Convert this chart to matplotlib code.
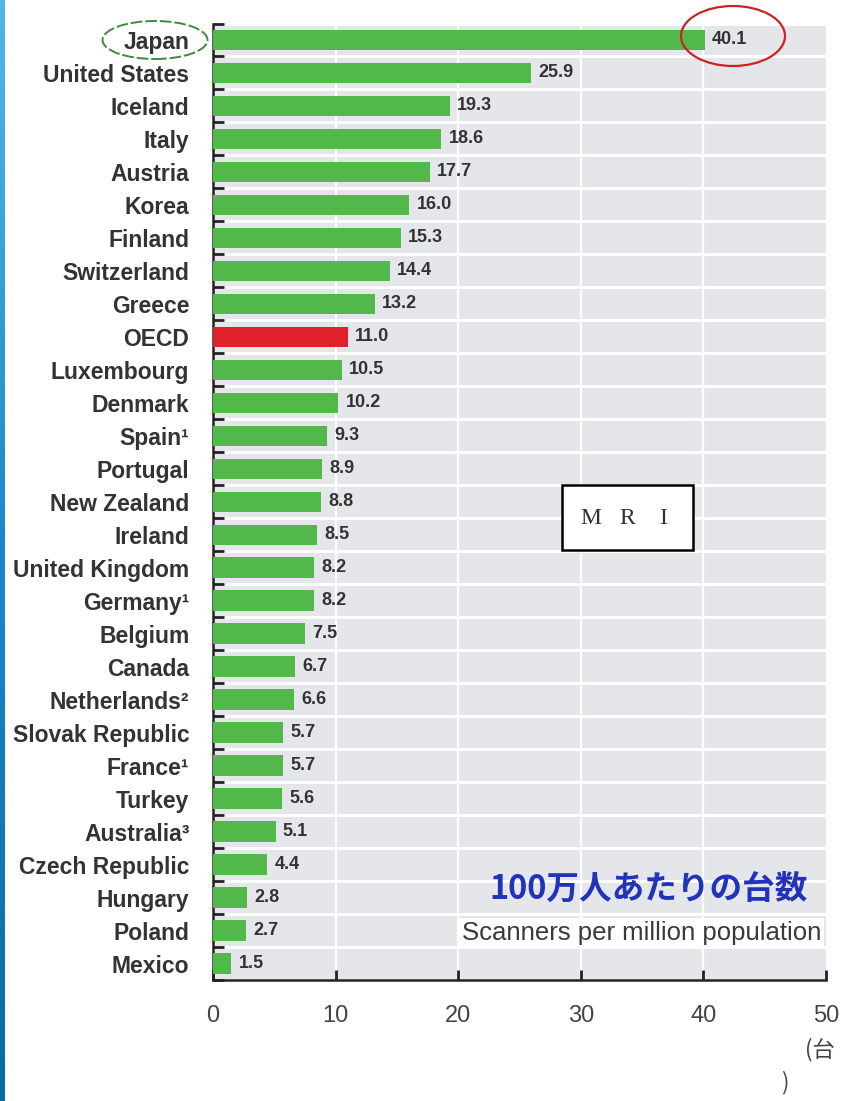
import matplotlib
matplotlib.use('Agg')
import matplotlib.pyplot as plt
import numpy as np
from matplotlib.patches import Ellipse, Rectangle

# 国別 MRI 台数（人口100万人あたり）
countries = ['Japan', 'United States', 'Iceland', 'Italy', 'Austria', 'Korea',
             'Finland', 'Switzerland', 'Greece', 'OECD', 'Luxembourg', 'Denmark',
             'Spain¹', 'Portugal', 'New Zealand', 'Ireland', 'United Kingdom',
             'Germany¹', 'Belgium', 'Canada', 'Netherlands²', 'Slovak Republic',
             'France¹', 'Turkey', 'Australia³', 'Czech Republic', 'Hungary',
             'Poland', 'Mexico']
values = [40.1, 25.9, 19.3, 18.6, 17.7, 16.0, 15.3, 14.4, 13.2, 11.0, 10.5, 10.2,
          9.3, 8.9, 8.8, 8.5, 8.2, 8.2, 7.5, 6.7, 6.6, 5.7, 5.7, 5.6, 5.1, 4.4,
          2.8, 2.7, 1.5]
x_ticks = [0, 10, 20, 30, 40, 50]

plt.rcParams['font.family'] = ['Liberation Sans', 'Noto Sans CJK JP', 'DejaVu Sans']

W, H = 844, 1101
fig = plt.figure(figsize=(W / 100, H / 100), dpi=100)
fig.patch.set_facecolor('white')

def fx(px):
    return px / W

def fy(py):
    return 1 - py / H

ax = fig.add_axes([fx(213), fy(980), fx(826) - fx(213), fy(23.5) - fy(980)])
ax.set_facecolor('#e4e6e9')

n = len(countries)
pos = np.arange(n)
farben = ['#e0202a' if c == 'OECD' else '#52b849' for c in countries]
ax.barh(pos, values, height=0.62, color=farben, zorder=3)

for p, v in zip(pos, values):
    ax.text(v + 0.6, p, f'{v:.1f}', va='center', ha='left', fontsize=13,
            color='#333333', fontweight='bold', zorder=4)

ax.set_ylim(n - 0.5, -0.5)
ax.set_xlim(0, 50)

# Zeilen-Trennlinien (weiß) und vertikales Gitter
for b in np.arange(n + 1) - 0.5:
    ax.axhline(b, color='white', linewidth=2.2, zorder=1)
for t in x_ticks[1:-1]:
    ax.axvline(t, color='white', linewidth=1.6, zorder=1)

ax.set_yticks(pos)
ax.set_yticklabels(countries, fontsize=16.5, color='#333333', fontweight='bold')
ax.tick_params(axis='y', which='major', length=0, pad=17)
ax.set_yticks(np.arange(n + 1) - 0.5, minor=True)
ax.tick_params(axis='y', which='minor', direction='in', length=8, width=2,
               color='#222222')

ax.set_xticks(x_ticks)
ax.set_xticklabels([str(t) for t in x_ticks], fontsize=17, color='#444444')
ax.tick_params(axis='x', direction='in', length=7, width=2, color='#222222', pad=18)

for s in ['top', 'right']:
    ax.spines[s].set_visible(False)
ax.spines['left'].set_color('#222222')
ax.spines['left'].set_linewidth(1.8)
ax.spines['bottom'].set_color('#222222')
ax.spines['bottom'].set_linewidth(1.8)

# Beschriftungen im Diagramm
fig.text(fx(808), fy(889), '100万人あたりの台数', ha='right', va='center',
         fontsize=23.5, color='#2233bb', fontweight='bold',
         family=['Noto Sans CJK JP'])
fig.text(fx(821), fy(933), 'Scanners per million population', ha='right',
         va='center', fontsize=18.5, color='#3a3a3a',
         bbox=dict(facecolor='white', edgecolor='none', pad=2))

# MRI-Kasten
fig.patches.append(Rectangle((fx(562), fy(550)), fx(693) - fx(562), fy(485) - fy(550),
                             facecolor='white', edgecolor='black', linewidth=1.8,
                             transform=fig.transFigure, figure=fig, zorder=5))
for xp, ch in zip([591, 627, 663], ['M', 'R', 'I']):
    fig.text(fx(xp), fy(518), ch, ha='center', va='center', fontsize=17,
             family=['Liberation Serif'], color='#333333', zorder=6)

fig.text(fx(820), fy(1050), '(台', ha='center', va='center', fontsize=16,
         color='#444444', family=['Noto Sans CJK JP'])
fig.text(fx(785), fy(1083), ')', ha='center', va='center', fontsize=16,
         color='#444444', family=['Noto Sans CJK JP'])

# Markierungen
fig.patches.append(Ellipse((fx(155), fy(40)), fx(105), 38 / H, fill=False,
                           edgecolor='#3f8a3f', linewidth=1.4, linestyle=(0, (6, 1.5)),
                           transform=fig.transFigure, figure=fig))
fig.patches.append(Ellipse((fx(733), fy(36)), fx(104), 60 / H, fill=False,
                           edgecolor='#cc2222', linewidth=1.6,
                           transform=fig.transFigure, figure=fig))

# blauer Rand links
gax = fig.add_axes([0, 0, fx(5), 1])
grad = np.linspace(0, 1, 256).reshape(-1, 1)
gax.imshow(grad, aspect='auto', cmap=matplotlib.colors.LinearSegmentedColormap.from_list(
    'b', ['#4fb8ea', '#1a88c8', '#0a6aa8']), extent=[0, 1, 0, 1])
gax.axis('off')

fig.savefig('out.png', dpi=100)
